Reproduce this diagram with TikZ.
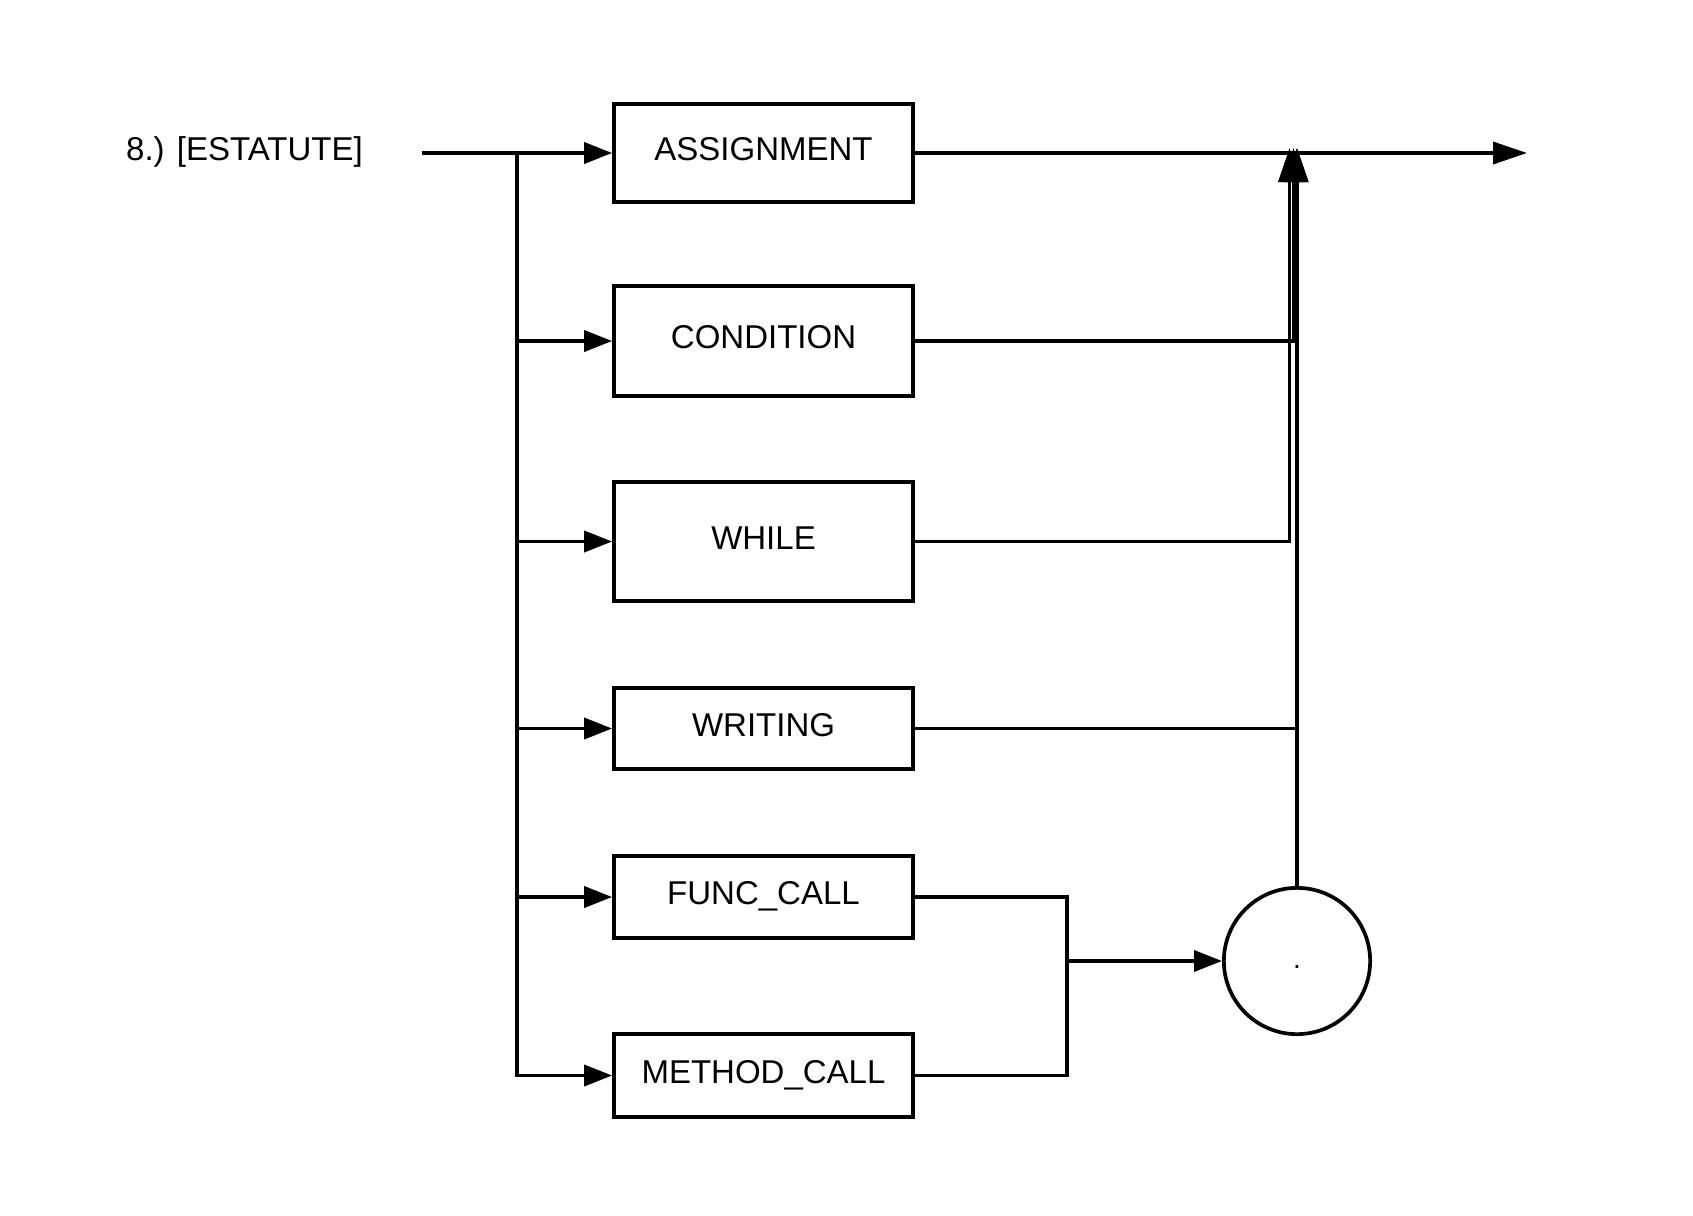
\documentclass[tikz,border=0pt]{standalone}
\usepackage{fontspec}
\setmainfont{Liberation Sans}
\usetikzlibrary{arrows.meta}
\tikzset{
  lbl/.style={font=\fontsize{33}{40}\selectfont},
  box/.style={draw, line width=3.7pt, minimum width=299pt, inner sep=0pt,
              text height=24pt, text depth=9pt, lbl},
  conn/.style={line width=3.7pt},
  arr/.style={conn, -{Triangle[length=28pt,width=21pt]}},
  bigarr/.style={conn, -{Triangle[length=34pt,width=22pt]}},
}
\begin{document}
\begin{tikzpicture}[x=1pt,y=-1pt]
\useasboundingbox (0,0) rectangle (1693,1215);
% title
\node[lbl, anchor=base west, inner sep=0pt] (title) at (126,160) {8.) [ESTATUTE]};
% boxes
\node[box, minimum height=98pt]  (asg)   at (763.5,153)    {ASSIGNMENT};
\node[box, minimum height=110pt] (cond)  at (763.5,341)    {CONDITION};
\node[box, minimum height=119pt] (whl)   at (763.5,541.5)  {WHILE};
\node[box, minimum height=81pt]  (wrt)   at (763.5,728.5)  {WRITING};
\node[box, minimum height=82pt]  (fcall) at (763.5,897)    {FUNC\_CALL};
\node[box, minimum height=83pt]  (mcall) at (763.5,1075.5) {METHOD\_CALL};
% circle
\node[draw, circle, line width=3.7pt, minimum size=146.3pt, inner sep=0pt,
      font=\fontsize{28}{32}\selectfont, text height=15pt, text depth=0pt] (dot) at (1297,961) {.};
% coordinates
\coordinate (start) at (422,153);
\coordinate (bTop) at (517,153);
\coordinate (endp) at (1527,153);
\coordinate (top) at (1297,148);
\coordinate (j) at (1067,961);
% entry and left branch
\draw[arr] (start) -- (asg.west);
\draw[arr] (bTop) |- (mcall.west);
\draw[arr] (bTop |- cond.west) -- (cond.west);
\draw[arr] (bTop |- whl.west) -- (whl.west);
\draw[arr] (bTop |- wrt.west) -- (wrt.west);
\draw[arr] (bTop |- fcall.west) -- (fcall.west);
% main output
\draw[bigarr] (asg.east) -- (endp);
% returns
\draw[bigarr] (whl.east) -| ([xshift=-7.5pt]top);
\draw[bigarr] (cond.east) -| ([xshift=-3.5pt]top);
\draw[bigarr] (wrt.east) -| (top);
\draw[bigarr] (dot.north) -- (top);
% calls join
\draw[conn] (fcall.east) -| (j);
\draw[conn] (mcall.east) -| (j);
\draw[arr] (j) -- (dot.west);
\end{tikzpicture}
\end{document}
